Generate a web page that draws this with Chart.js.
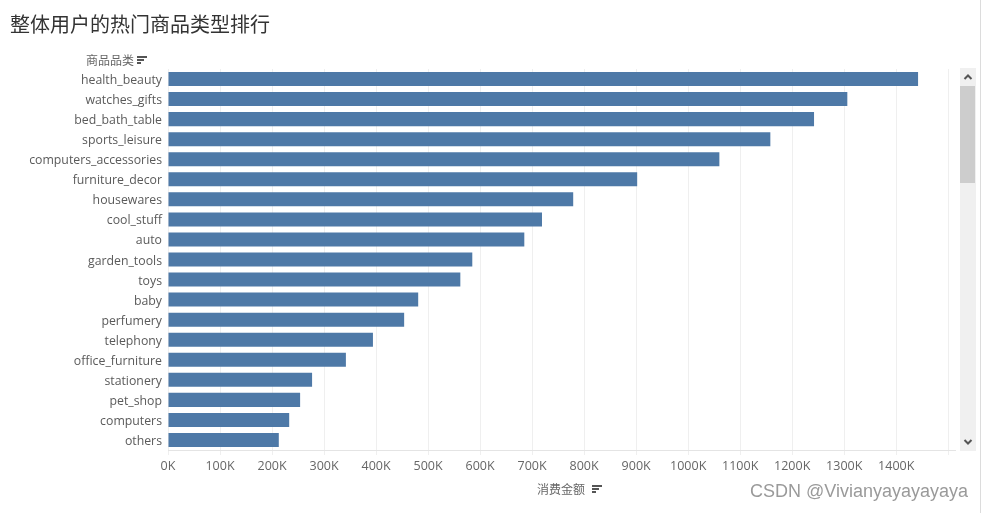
<!DOCTYPE html>
<html>
<head>
<meta charset="utf-8">
<script src="https://cdn.jsdelivr.net/npm/chart.js@4/dist/chart.umd.min.js"></script>
<style>
  html, body { margin: 0; padding: 0; background: #fff; }
  body { width: 983px; height: 513px; position: relative; overflow: hidden; }
  #wrap { position: absolute; left: 0; top: 0; width: 983px; height: 513px; }
  .txt { position: absolute; white-space: nowrap; }
  #title { left: 10px; top: 9px; font: 20px "Noto Sans CJK SC", sans-serif; color: #333; }
  .hdr { font: 12px "Noto Sans CJK SC", sans-serif; color: #666; }
  .sorticon { position: absolute; }
  .sorticon i { display: block; height: 2px; background: #555; margin-bottom: 1px; }
  #mark { right: 15px; top: 481px; font: 18px "Liberation Sans", Arial, sans-serif; color: #9a9a9a; }
  #sb { position: absolute; left: 960px; top: 68px; width: 16px; height: 383px; background: #f0f0f0; }
  #thumb { position: absolute; left: 0; top: 18px; width: 15px; height: 97px; background: #cdcdcd; }
  .arr { position: absolute; left: 0; width: 16px; height: 18px; }
  #edge { position: absolute; left: 980px; top: 0; width: 1px; height: 513px; background: #dcdcdc; }
</style>
</head>
<body>
<div id="wrap"><canvas id="c" width="983" height="513"></canvas></div>
<div id="title" class="txt">整体用户的热门商品类型排行</div>
<div class="txt hdr" style="left:86px; top:51px;">商品品类</div>
<div class="sorticon" style="left:137px; top:56px;"><i style="width:10px"></i><i style="width:7px"></i><i style="width:4px"></i></div>
<div class="txt hdr" style="left:537px; top:480px;">消费金额</div>
<div class="sorticon" style="left:592px; top:485px;"><i style="width:10px"></i><i style="width:7px"></i><i style="width:4px"></i></div>
<div id="mark" class="txt">CSDN @Vivianyayayayaya</div>
<div id="sb">
  <div class="arr" style="top:0"><svg width="16" height="18"><polyline points="4.5,11 8,7.5 11.5,11" fill="none" stroke="#555" stroke-width="2"/></svg></div>
  <div id="thumb"></div>
  <div class="arr" style="top:365px"><svg width="16" height="18"><polyline points="4.5,7 8,10.5 11.5,7" fill="none" stroke="#555" stroke-width="2"/></svg></div>
</div>
<div id="edge"></div>
<script>
// 商品品类
var categories = ['health_beauty', 'watches_gifts', 'bed_bath_table', 'sports_leisure', 'computers_accessories',
  'furniture_decor', 'housewares', 'cool_stuff', 'auto', 'garden_tools', 'toys', 'baby', 'perfumery',
  'telephony', 'office_furniture', 'stationery', 'pet_shop', 'computers', 'others'];
// 消费金额
var amounts = [1442000, 1306000, 1242000, 1158000, 1060000, 902000, 779000, 719000, 685000, 585000,
  562000, 481000, 454000, 394000, 342000, 277000, 254000, 233000, 213000];
var tickValues = [0, 100000, 200000, 300000, 400000, 500000, 600000, 700000, 800000, 900000,
  1000000, 1100000, 1200000, 1300000, 1400000, 1500000];

var ctx = document.getElementById('c').getContext('2d');
var chart = new Chart(ctx, {
  type: 'bar',
  data: {
    labels: categories,
    datasets: [{
      label: '消费金额',
      data: amounts,
      backgroundColor: '#4e79a7',
      borderWidth: 0,
      barPercentage: 0.7,
      categoryPercentage: 1
    }]
  },
  options: {
    indexAxis: 'y',
    responsive: false,
    animation: false,
    layout: { padding: { left: 0, top: 69, right: 28, bottom: 33 } },
    plugins: { legend: { display: false }, tooltip: { enabled: false } },
    scales: {
      x: {
        min: 0,
        max: 1513000,
        afterBuildTicks: function (scale) {
          scale.ticks = tickValues.map(function (v) { return { value: v }; });
        },
        afterFit: function (scale) { scale.height = 30; },
        grid: { color: '#efefef', tickLength: 5 },
        border: { color: '#e4e4e4' },
        ticks: {
          padding: 4,
          maxRotation: 0,
          autoSkip: false,
          color: '#666',
          font: { family: 'Open Sans', size: 12.5 },
          callback: function (v) { return v > 1400000 ? '' : (v / 1000) + 'K'; }
        }
      },
      y: {
        afterFit: function (scale) { scale.width = 168; },
        grid: { display: false, drawTicks: false },
        border: { display: false },
        ticks: {
          padding: 6,
          labelOffset: 1.5,
          autoSkip: false,
          color: '#5a5a5a',
          font: { family: 'Open Sans', size: 12.3 }
        }
      }
    }
  }
});
</script>
</body>
</html>
